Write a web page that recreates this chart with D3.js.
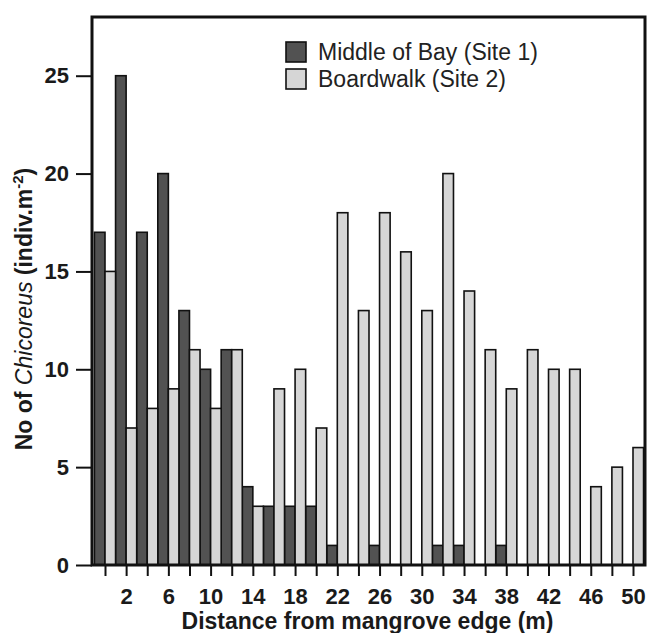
<!DOCTYPE html>
<html>
<head>
<meta charset="utf-8">
<script src="https://cdn.jsdelivr.net/npm/d3@7"></script>
<style>
  body { margin: 0; background: #fff; }
  svg { display: block; font-family: "Liberation Sans", Arial, sans-serif; }
</style>
</head>
<body>
<div id="chart"></div>
<script>
// distance classes (m)
const distances = [0,2,4,6,8,10,12,14,16,18,20,22,24,26,28,30,32,34,36,38,40,42,44,46,48,50];
// Middle of Bay (Site 1)
const site1 = [17,25,17,20,13,10,11,4,3,3,3,1,0,1,0,0,1,1,0,1,0,0,0,0,0,0];
// Boardwalk (Site 2)
const site2 = [15,7,8,9,11,8,11,3,9,10,7,18,13,18,16,13,20,14,11,9,11,10,10,4,5,6];
const yTicks = [0,5,10,15,20,25];
const xLabels = [2,6,10,14,18,22,26,30,34,38,42,46,50];
const seriesNames = ["Middle of Bay (Site 1)", "Boardwalk (Site 2)"];

const W = 648, H = 633;
const m = {left: 92, right: 645, top: 17, bottom: 565};

const svg = d3.select('#chart').append('svg')
  .attr('width', W).attr('height', H);

const x = d3.scalePoint().domain(distances).range([m.left + 13, m.right - 12]);
const barW = x.step() / 2;
const y = d3.scaleLinear().domain([0, 28]).range([m.bottom, m.top]);

const colors = ['#525252', '#d6d6d6'];

// bars: dark to the left of the tick, light to the right
const rows = distances.map((d, i) => ({d: d, s1: site1[i], s2: site2[i]}));
const g = svg.append('g');
g.selectAll('rect.s1').data(rows.filter(r => r.s1 > 0)).enter().append('rect')
  .attr('class', 's1')
  .attr('x', r => x(r.d) - barW)
  .attr('y', r => y(r.s1))
  .attr('width', barW)
  .attr('height', r => y(0) - y(r.s1))
  .attr('fill', colors[0])
  .attr('stroke', '#111')
  .attr('stroke-width', 1.6);
g.selectAll('rect.s2').data(rows.filter(r => r.s2 > 0)).enter().append('rect')
  .attr('class', 's2')
  .attr('x', r => x(r.d))
  .attr('y', r => y(r.s2))
  .attr('width', barW)
  .attr('height', r => y(0) - y(r.s2))
  .attr('fill', colors[1])
  .attr('stroke', '#111')
  .attr('stroke-width', 1.6);

// axes
const yAxis = svg.append('g')
  .attr('transform', `translate(${m.left},0)`)
  .call(d3.axisLeft(y).tickValues(yTicks).tickSize(16).tickPadding(7));
const xAxis = svg.append('g')
  .attr('transform', `translate(0,${m.bottom})`)
  .call(d3.axisBottom(x).tickSize(11).tickPadding(12)
    .tickFormat(d => xLabels.includes(d) ? d : ''));

[xAxis, yAxis].forEach(a => {
  a.select('.domain').remove();
  a.selectAll('line').attr('stroke', '#111').attr('stroke-width', 2);
  a.selectAll('text').attr('fill', '#1a1a1a')
    .style('font-size', '22px').style('font-weight', 'bold')
    .style('font-family', '"Liberation Sans", Arial, sans-serif');
});

// frame
svg.append('rect')
  .attr('x', m.left).attr('y', m.top)
  .attr('width', m.right - m.left).attr('height', m.bottom - m.top)
  .attr('fill', 'none').attr('stroke', '#111').attr('stroke-width', 3);

// legend
const leg = svg.append('g').attr('transform', 'translate(286,42)');
seriesNames.forEach((name, i) => {
  leg.append('rect')
    .attr('x', 0).attr('y', i * 27)
    .attr('width', 20).attr('height', 20)
    .attr('fill', colors[i]).attr('stroke', '#111').attr('stroke-width', 1.6);
  leg.append('text')
    .attr('x', 32).attr('y', i * 27 + 18)
    .attr('fill', '#222')
    .style('font-size', '23px')
    .text(name);
});

// axis titles
svg.append('text')
  .attr('x', 367.5).attr('y', 628.5)
  .attr('text-anchor', 'middle')
  .attr('fill', '#1a1a1a')
  .style('font-size', '23px').style('font-weight', 'bold')
  .text('Distance from mangrove edge (m)');

const yt = svg.append('text')
  .attr('transform', 'translate(32,309) rotate(-90)')
  .attr('text-anchor', 'middle')
  .attr('fill', '#1a1a1a')
  .style('font-size', '23px').style('font-weight', 'bold');
yt.append('tspan').text('No of ');
yt.append('tspan').style('font-style', 'italic').style('font-weight', 'normal').text('Chicoreus');
yt.append('tspan').text(' (indiv.m');
yt.append('tspan').attr('dy', -9).style('font-size', '15px').text('-2');
yt.append('tspan').attr('dy', 9).text(')');
</script>
</body>
</html>
